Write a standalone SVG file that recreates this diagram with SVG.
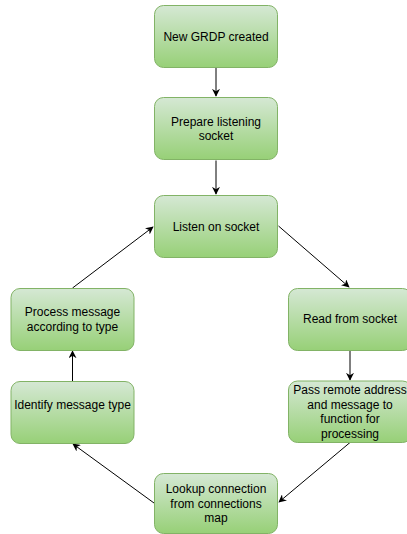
<svg xmlns="http://www.w3.org/2000/svg" width="407" height="534" viewBox="0 0 407 534">
<defs>
<linearGradient id="g" x1="0" y1="0" x2="0" y2="1">
<stop offset="0" stop-color="#d5e8d4"/>
<stop offset="1" stop-color="#97d077"/>
</linearGradient>
<marker id="arr" viewBox="0 0 10 10" refX="9" refY="5" markerWidth="8" markerHeight="8" markerUnits="userSpaceOnUse" orient="auto">
<path d="M0,0 L10,5 L0,10 L3,5 Z" fill="#000"/>
</marker>
<style>
.box{fill:url(#g);stroke:#82b366;stroke-width:1}
.t{font-family:"Liberation Sans",Arial,sans-serif;font-size:12px;fill:#000;text-anchor:middle}
.c{fill:none;stroke:#000;stroke-width:1;marker-end:url(#arr)}
</style>
</defs>
<rect width="407" height="534" fill="#fff"/>
<g id="connectors">
<path class="c" d="M216,67.5 L216,96"/>
<path class="c" d="M216,160.5 L216,194"/>
<path class="c" d="M278.5,226 L349,287"/>
<path class="c" d="M350,350.5 L350,380"/>
<path class="c" d="M350,442.5 L279,502"/>
<path class="c" d="M154,503 L73,444"/>
<path class="c" d="M72.5,381 L72.5,351"/>
<path class="c" d="M72.5,288 L153,227"/>
</g>
<g id="n1">
<rect class="box" x="154.5" y="5.5" width="123" height="62" rx="9"/>
<text class="t" x="216" y="40.5">New GRDP created</text>
</g>
<g id="n2">
<rect class="box" x="154.5" y="97.5" width="123" height="62" rx="9"/>
<text class="t" x="216" y="125.5">Prepare listening</text>
<text class="t" x="216" y="139.5">socket</text>
</g>
<g id="n3">
<rect class="box" x="154.5" y="195.5" width="123" height="62" rx="9"/>
<text class="t" x="216" y="230.5">Listen on socket</text>
</g>
<g id="n4">
<rect class="box" x="288.5" y="288.5" width="123" height="62" rx="9"/>
<text class="t" x="350" y="323">Read from socket</text>
</g>
<g id="n5">
<rect class="box" x="288.5" y="381" width="123" height="61.5" rx="9"/>
<text class="t" x="350" y="394">Pass remote address</text>
<text class="t" x="350" y="408.5">and message to</text>
<text class="t" x="350" y="423">function for</text>
<text class="t" x="350" y="437.5">processing</text>
</g>
<g id="n6">
<rect class="box" x="154.5" y="473.5" width="123" height="60" rx="9"/>
<text class="t" x="216" y="493">Lookup connection</text>
<text class="t" x="216" y="507.5">from connections</text>
<text class="t" x="216" y="522">map</text>
</g>
<g id="n7">
<rect class="box" x="11" y="381.5" width="123" height="62" rx="9"/>
<text class="t" x="72.5" y="408.5">Identify message type</text>
</g>
<g id="n8">
<rect class="box" x="11" y="288.5" width="123" height="62" rx="9"/>
<text class="t" x="72.5" y="316">Process message</text>
<text class="t" x="72.5" y="330.5">according to type</text>
</g>
</svg>
